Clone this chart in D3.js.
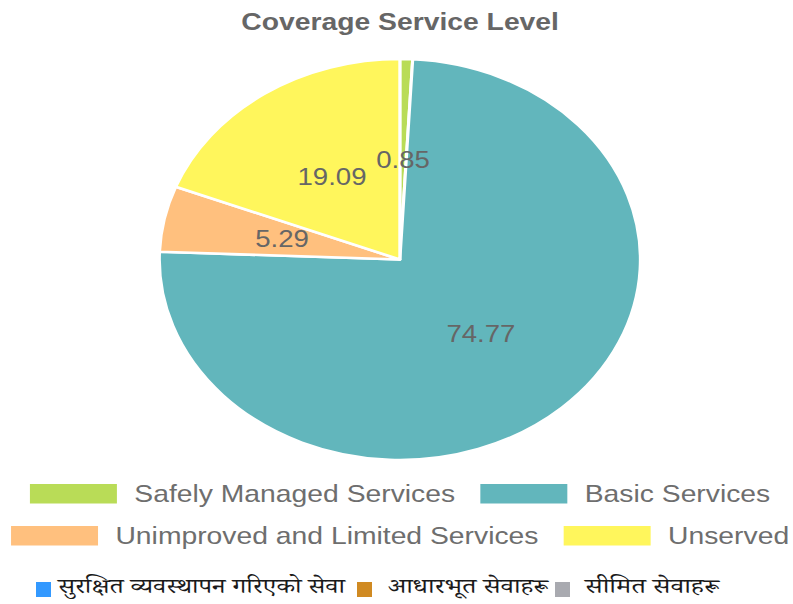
<!DOCTYPE html>
<html>
<head>
<meta charset="UTF-8">
<title>Coverage Service Level</title>
<script src="https://cdn.jsdelivr.net/npm/d3@7"></script>
<style>
  body { margin: 0; background: #fff; }
  svg { display: block; }
</style>
</head>
<body>
<svg id="chart" width="793" height="604"></svg>
<script>
// data
var categories = ["Safely Managed Services", "Basic Services", "Unimproved and Limited Services", "Unserved"];
var values = [0.85, 74.77, 5.29, 19.09];
var colors = ["#b9dc57", "#62b6bc", "#ffc07e", "#fff65c"];

var npLabels = ["सुरक्षित व्यवस्थापन गरिएको सेवा", "आधारभूत सेवाहरू", "सीमित सेवाहरू"];
var npColors = ["#3399ff", "#d08a22", "#a9aab0"];

var outer = d3.select("#chart");

// the chart itself is drawn on a 661 wide box and stretched to 793
var vw = 661, vh = 604;
var svg = outer.append("svg")
    .attr("width", 793).attr("height", 604)
    .attr("viewBox", "0 0 " + vw + " " + vh)
    .attr("preserveAspectRatio", "none");

var font = "'Liberation Sans', Arial, sans-serif";

svg.append("text")
    .attr("x", 333.5).attr("y", 30)
    .attr("text-anchor", "middle")
    .style("font-family", font)
    .style("font-size", "23.6px")
    .style("font-weight", "bold")
    .style("fill", "#666")
    .text("Coverage Service Level");

var cx = 333.3, cy = 259.5, r = 200.5;

var pie = d3.pie().sort(null).value(function(d) { return d; });
var arc = d3.arc().innerRadius(0).outerRadius(r);

var g = svg.append("g").attr("transform", "translate(" + cx + "," + cy + ")");
var arcs = pie(values);

g.selectAll("path.slice")
    .data(arcs)
  .enter().append("path")
    .attr("class", "slice")
    .attr("d", arc)
    .attr("fill", function(d, i) { return colors[i]; })
    .attr("stroke", "#fff")
    .attr("stroke-width", 2.6)
    .attr("stroke-linejoin", "round");

g.selectAll("text.lbl")
    .data(arcs)
  .enter().append("text")
    .attr("class", "lbl")
    .attr("transform", function(d) { return "translate(" + arc.centroid(d) + ")"; })
    .attr("text-anchor", "middle")
    .attr("dy", "0.36em")
    .style("font-family", font)
    .style("font-size", "23px")
    .style("fill", "#666")
    .text(function(d) { return d.data.toFixed(2); });

// legend: two centred rows
var rows = [[0, 1], [2, 3]];
var rowY = [484, 526];
var sw = 72.5, sh = 19.5, gapText = 14.5, gapItem = 21;

rows.forEach(function(row, ri) {
    var lg = svg.append("g");
    var x = 0;
    row.forEach(function(ci) {
        lg.append("rect")
            .attr("x", x).attr("y", rowY[ri])
            .attr("width", sw).attr("height", sh)
            .attr("fill", colors[ci]);
        var t = lg.append("text")
            .attr("x", x + sw + gapText)
            .attr("y", rowY[ri] + 18)
            .style("font-family", font)
            .style("font-size", "23.6px")
            .style("fill", "#6e6e6e")
            .text(categories[ci]);
        x += sw + gapText + t.node().getComputedTextLength() + gapItem;
    });
    var total = x - gapItem;
    lg.attr("transform", "translate(" + (vw / 2 - total / 2 + 3) + ",0)");
});

// Nepali legend row (not stretched)
var npX = [36, 357, 555];
var npTextX = [58, 388, 585];
var npTextW = [287, 160, 134];
var np = outer.append("g");
npLabels.forEach(function(lbl, i) {
    np.append("rect")
        .attr("x", npX[i]).attr("y", 582)
        .attr("width", 15).attr("height", 15)
        .attr("fill", npColors[i]);
    np.append("text")
        .attr("x", npTextX[i])
        .attr("y", 593)
        .attr("textLength", npTextW[i])
        .attr("lengthAdjust", "spacingAndGlyphs")
        .style("font-family", "'Noto Serif Devanagari', 'Noto Sans Devanagari', 'Lohit Devanagari', serif")
        .style("font-size", "20px")
        .style("fill", "#1a1a1a")
        .text(lbl);
});
</script>
</body>
</html>
